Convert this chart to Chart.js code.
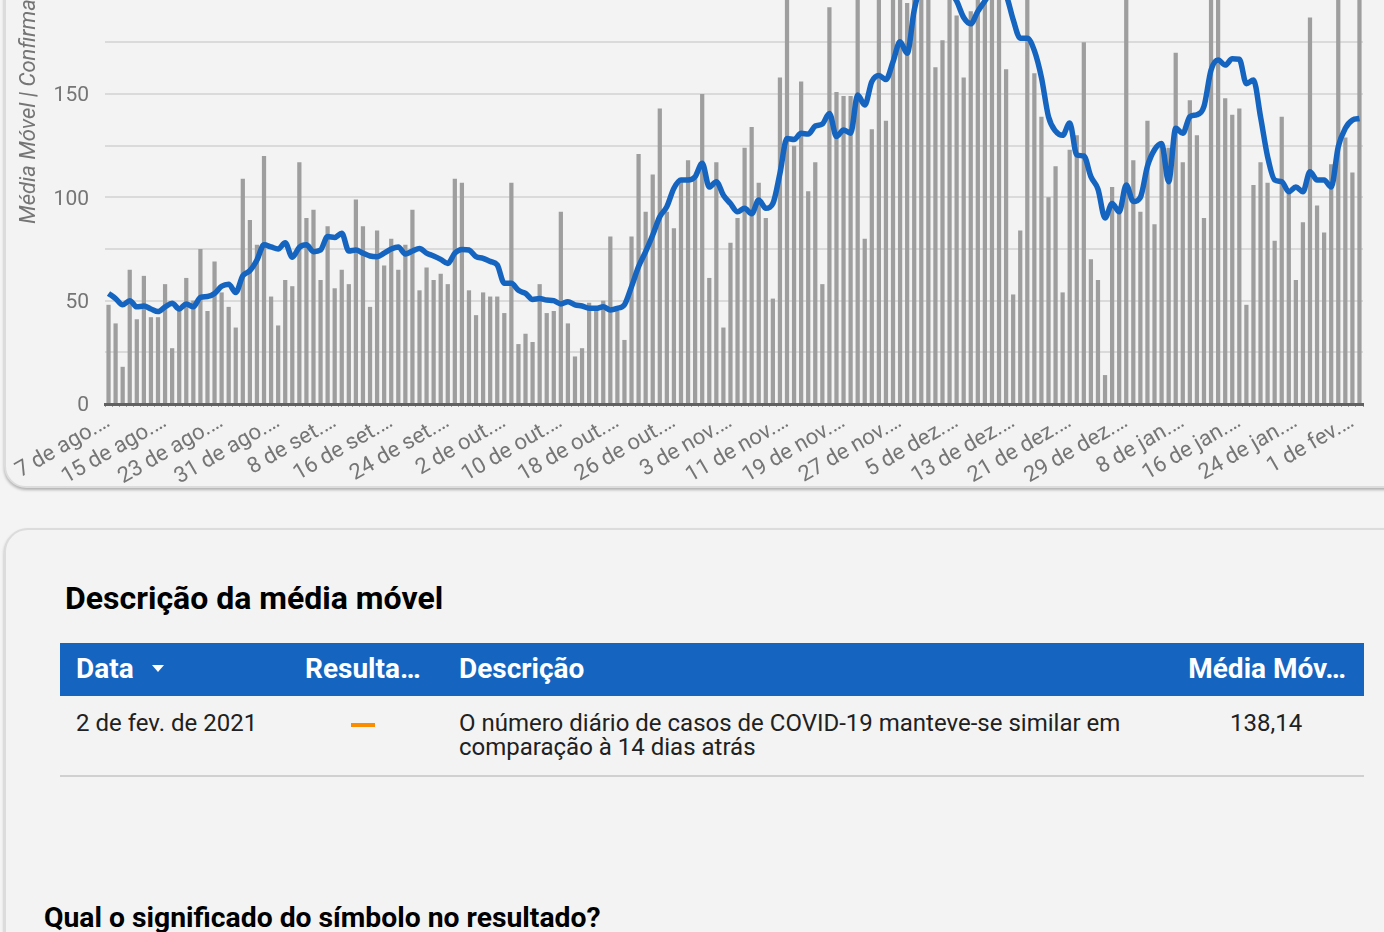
<!DOCTYPE html>
<html lang="pt-BR">
<head>
<meta charset="utf-8">
<title>Média móvel</title>
<script src="https://cdn.jsdelivr.net/npm/chart.js@4.4.1/dist/chart.umd.min.js"></script>
<style>
    html, body { margin: 0; padding: 0; }
    body {
        width: 1384px; height: 932px; overflow: hidden; position: relative;
        background: #f4f4f4; font-family: Roboto, sans-serif;
    }
    .card {
        position: absolute; background: #f3f3f3;
        border: 2px solid #dcdcdc; box-shadow: 0 2px 3px rgba(0, 0, 0, .28);
    }
    #chartCard { left: 4px; top: -300px; width: 1420px; height: 784px; border-radius: 22px; }
    #tableCard { left: 4px; top: 528px; width: 1420px; height: 600px; border-radius: 24px; }
    #chartBox { position: absolute; left: 0; top: -245px; width: 1384px; height: 733px; }
    .txt { position: absolute; line-height: 1; white-space: nowrap; }
    #title { left: 65px; top: 582px; font-size: 32px; font-weight: 700; color: #000; }
    #thead { position: absolute; left: 60px; top: 643px; width: 1304px; height: 53px; background: #1565c0; }
    .th { font-size: 28px; font-weight: 700; color: #fff; top: 655px; }
    #arrow {
        position: absolute; left: 152px; top: 665px; width: 0; height: 0;
        border-left: 6px solid transparent; border-right: 6px solid transparent; border-top: 7px solid #fff;
    }
    .td { font-size: 24px; color: #212121; top: 711px; }
    #dash { position: absolute; left: 351px; top: 723px; width: 24px; height: 4px; background: #fb8c00; }
    #rowLine { position: absolute; left: 60px; top: 775px; width: 1304px; height: 2px; background: #d0d0d0; }
    #question { left: 44px; top: 904px; font-size: 28.3px; font-weight: 700; color: #000; }
</style>
</head>
<body>
<div class="card" id="chartCard"></div>
<div id="chartBox"><canvas id="mediaMovelChart" width="1384" height="733"></canvas></div>

<div class="card" id="tableCard"></div>
<div class="txt" id="title">Descrição da média móvel</div>
<div id="thead"></div>
<div class="txt th" style="left:76px">Data</div>
<div id="arrow"></div>
<div class="txt th" style="left:305px">Resulta…</div>
<div class="txt th" style="left:459px">Descrição</div>
<div class="txt th" style="right:38px">Média Móv…</div>
<div class="txt td" style="left:76px">2 de fev. de 2021</div>
<div id="dash"></div>
<div class="txt td" style="left:459px">O número diário de casos de COVID-19 manteve-se similar em<br>comparação à 14 dias atrás</div>
<div class="txt td" style="left:1230px">138,14</div>
<div id="rowLine"></div>
<div class="txt" id="question">Qual o significado do símbolo no resultado?</div>

<script>
// Dias (7 de ago. de 2020 a 2 de fev. de 2021; 1 e 2 de jan. sem registro)
const categories = [
    '07/08','08/08','09/08','10/08','11/08','12/08','13/08','14/08','15/08','16/08','17/08','18/08','19/08',
    '20/08','21/08','22/08','23/08','24/08','25/08','26/08','27/08','28/08','29/08','30/08','31/08',
    '01/09','02/09','03/09','04/09','05/09','06/09','07/09','08/09','09/09','10/09','11/09','12/09','13/09','14/09','15/09',
    '16/09','17/09','18/09','19/09','20/09','21/09','22/09','23/09','24/09','25/09','26/09','27/09','28/09','29/09','30/09',
    '01/10','02/10','03/10','04/10','05/10','06/10','07/10','08/10','09/10','10/10','11/10','12/10','13/10','14/10','15/10',
    '16/10','17/10','18/10','19/10','20/10','21/10','22/10','23/10','24/10','25/10','26/10','27/10','28/10','29/10','30/10','31/10',
    '01/11','02/11','03/11','04/11','05/11','06/11','07/11','08/11','09/11','10/11','11/11','12/11','13/11','14/11','15/11',
    '16/11','17/11','18/11','19/11','20/11','21/11','22/11','23/11','24/11','25/11','26/11','27/11','28/11','29/11','30/11',
    '01/12','02/12','03/12','04/12','05/12','06/12','07/12','08/12','09/12','10/12','11/12','12/12','13/12','14/12','15/12',
    '16/12','17/12','18/12','19/12','20/12','21/12','22/12','23/12','24/12','25/12','26/12','27/12','28/12','29/12','30/12','31/12',
    '03/01','04/01','05/01','06/01','07/01','08/01','09/01','10/01','11/01','12/01','13/01','14/01','15/01','16/01','17/01',
    '18/01','19/01','20/01','21/01','22/01','23/01','24/01','25/01','26/01','27/01','28/01','29/01','30/01','31/01',
    '01/02','02/02'
];

// Rótulos do eixo x (um a cada 8 dias)
const tickLabels = [
    '7 de ago.…', '15 de ago.…', '23 de ago.…', '31 de ago.…', '8 de set.…', '16 de set.…',
    '24 de set.…', '2 de out.…', '10 de out.…', '18 de out.…', '26 de out.…', '3 de nov.…',
    '11 de nov.…', '19 de nov.…', '27 de nov.…', '5 de dez.…', '13 de dez.…', '21 de dez.…',
    '29 de dez.…', '8 de jan.…', '16 de jan.…', '24 de jan.…', '1 de fev.…'
];

// Casos confirmados por dia
const dailyCases = [
    48, 39, 18, 65, 41, 62, 42, 42, 58, 27,
    45, 61, 50, 75, 45, 69, 54, 47, 37, 109,
    89, 77, 120, 52, 38, 60, 57, 117, 90, 94,
    60, 86, 56, 65, 58, 99, 86, 47, 84, 67,
    80, 65, 77, 94, 55, 66, 60, 63, 58, 109,
    107, 55, 43, 54, 52, 52, 44, 107, 29, 34,
    30, 58, 44, 45, 93, 39, 23, 27, 49, 47,
    50, 81, 45, 31, 81, 121, 93, 111, 143, 93,
    85, 108, 118, 109, 150, 61, 117, 37, 78, 90,
    124, 134, 107, 90, 51, 158, 215, 125, 156, 103,
    117, 58, 192, 151, 149, 149, 225, 80, 133, 230,
    137, 220, 240, 194, 235, 215, 228, 163, 176, 245,
    188, 158, 190, 232, 218, 250, 210, 162, 53, 84,
    225, 160, 139, 100, 115, 54, 123, 130, 175, 70,
    60, 14, 105, 94, 210, 118, 93, 137, 87, 126,
    124, 170, 117, 147, 130, 90, 230, 240, 148, 140,
    143, 48, 106, 117, 107, 79, 139, 102, 60, 88,
    187, 96, 83, 116, 220, 129, 112, 225
];

// Média móvel
const movingAverage = [
    53.5, 51, 48, 50, 47, 47.4, 46, 44.7, 47, 48.7,
    46, 48.4, 47, 51.6, 52, 53.5, 57, 58, 54, 62,
    64.5, 69.7, 77, 76, 75, 78, 71, 75.8, 77, 73.7,
    74.5, 81, 80.6, 82.6, 74, 74.5, 73, 71.6, 71.3, 73,
    75, 76, 72.6, 74, 75.3, 73, 71.6, 70, 68, 73,
    74.8, 74.5, 71.3, 70.5, 69, 67.3, 58.4, 58.4, 55, 53.5,
    50.6, 51, 50.3, 50, 48.4, 49.5, 48, 47.4, 46.3, 46.3,
    47, 45.5, 46.3, 48, 56.8, 66.5, 73.7, 81.8, 90.6, 95.5,
    104.4, 108.4, 108.4, 110, 116.5, 105, 107.6, 101, 97, 93,
    94.7, 92, 98.7, 94.7, 97, 111.6, 128.5, 128, 131, 130.6,
    134.5, 135.5, 140.6, 129.4, 132.6, 131, 149.5, 144.7, 156, 159,
    157, 165.6, 175.3, 169.7, 190.6, 203, 208, 210, 207, 200,
    195, 187, 184, 190, 195, 200, 202, 198, 186, 177,
    177, 171, 158, 139, 132, 130, 136, 120.5, 120, 110,
    104, 90, 97, 93, 106, 98, 100, 115, 123, 126,
    107.6, 133.4, 131, 139, 140, 144, 161.6, 166.5, 164, 167,
    166.8, 155, 156.8, 139, 119.7, 108.4, 107.6, 102.7, 105, 102.7,
    112.4, 108.4, 108.4, 105, 124.5, 133.4, 137.4, 138.14
];

const ctx = document.getElementById('mediaMovelChart').getContext('2d');
new Chart(ctx, {
    data: {
        labels: categories,
        datasets: [
            {
                type: 'line',
                label: 'Média Móvel',
                data: movingAverage,
                borderColor: '#1565c0',
                borderWidth: 5.5,
                pointRadius: 0,
                cubicInterpolationMode: 'monotone',
                fill: false
            },
            {
                type: 'bar',
                label: 'Confirmados',
                data: dailyCases,
                backgroundColor: '#9e9e9e',
                barPercentage: 0.6,
                categoryPercentage: 1
            }
        ]
    },
    options: {
        responsive: false,
        animation: false,
        layout: { padding: { top: 29, right: 21, left: 0, bottom: 0 } },
        plugins: { legend: { display: false }, tooltip: { enabled: false } },
        scales: {
            x: {
                grid: { display: true, drawOnChartArea: false, drawTicks: true, tickLength: 3, color: '#9e9e9e' },
                border: { color: '#616161', width: 3 },
                ticks: {
                    autoSkip: false, minRotation: 30, maxRotation: 30, padding: 2,
                    color: '#757575', font: { family: 'Roboto', size: 22 },
                    callback: (v, i) => i % 8 === 0 ? tickLabels[i / 8] : ''
                },
                afterFit: scale => { scale.height = 84; }
            },
            y: {
                min: 0,
                max: 300,
                grid: { color: '#dadada', lineWidth: 2, drawTicks: false },
                border: { display: false },
                ticks: {
                    stepSize: 25, padding: 16, labelOffset: 2, color: '#757575',
                    font: { family: 'Roboto', size: 21 },
                    callback: v => (v % 50 === 0 && v < 300) ? v : ''
                },
                title: {
                    display: true,
                    text: 'Média Móvel | Confirmados',
                    color: '#757575',
                    font: { family: 'Roboto', size: 22, style: 'italic' },
                    padding: { top: 16, bottom: 0 }
                },
                afterFit: scale => { scale.width = 105; }
            }
        }
    }
});
</script>
</body>
</html>
